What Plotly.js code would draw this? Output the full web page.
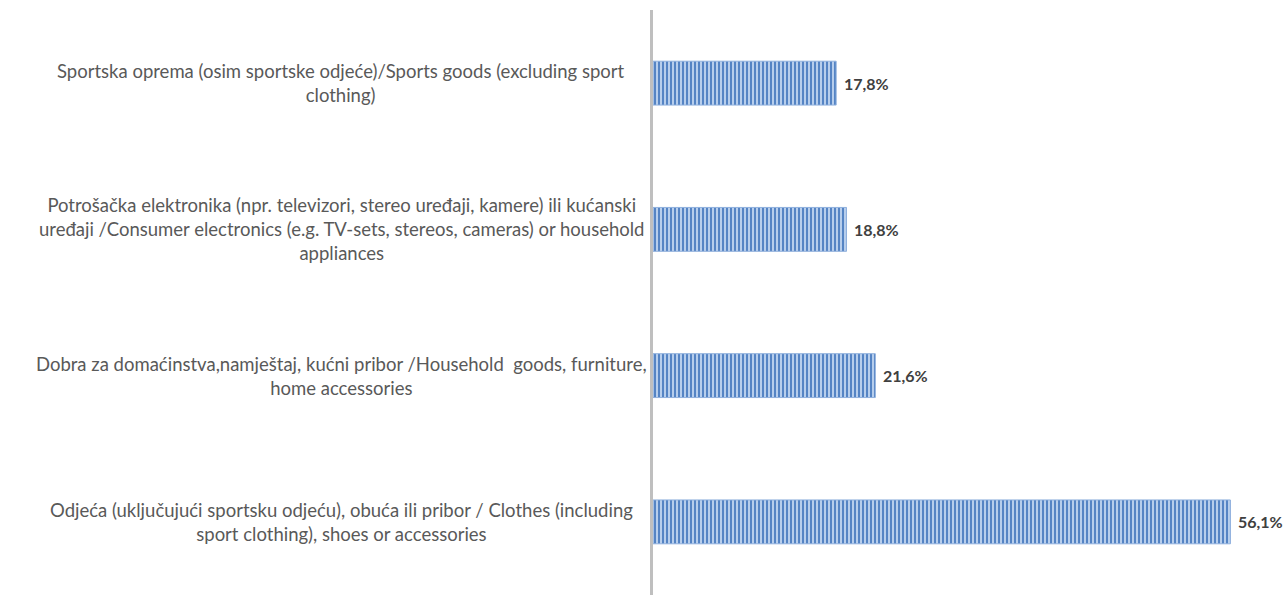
<!DOCTYPE html>
<html>
<head>
<meta charset="utf-8">
<script src="https://cdn.plot.ly/plotly-3.0.1.min.js"></script>
<style>html,body{margin:0;padding:0;background:#fff;}#chart{width:1287px;height:595px;}</style>
</head>
<body>
<div id="chart"></div>
<script>
// Categories top to bottom (line breaks as in the reference)
const categories = [
  "Sportska oprema (osim sportske odjeće)/Sports goods (excluding sport<br>clothing)",
  "Potrošačka elektronika (npr. televizori, stereo uređaji, kamere) ili kućanski<br>uređaji /Consumer electronics (e.g. TV-sets, stereos, cameras) or household<br>appliances",
  "Dobra za domaćinstva,namještaj, kućni pribor /Household  goods, furniture,<br>home accessories",
  "Odjeća (uključujući sportsku odjeću), obuća ili pribor / Clothes (including<br>sport clothing), shoes or accessories"
];
const values = [17.8, 18.8, 21.6, 56.1];
const valueLabels = ["17,8%", "18,8%", "21,6%", "56,1%"];

const labelFont = {family: "Lato, 'Open Sans', sans-serif", size: 18.5, color: "#595959"};

const annotations = [];
categories.forEach((c, i) => {
  annotations.push({
    xref: "paper", yref: "y", x: -0.492, y: c, text: c,
    showarrow: false, xanchor: "center", yanchor: "middle", align: "center",
    font: labelFont
  });
  annotations.push({
    xref: "x", yref: "y", x: values[i], y: c, text: "<b>" + valueLabels[i] + "</b>",
    showarrow: false, xanchor: "left", yanchor: "middle", xshift: 6,
    font: {family: "Lato, 'Open Sans', sans-serif", size: 16, color: "#404040"}
  });
});

const trace = {
  type: "bar", orientation: "h",
  x: values, y: categories,
  width: 0.3,
  marker: {
    color: "#A9C4E8",
    line: {color: "#8FB0DD", width: 1},
    pattern: {shape: "|", fgcolor: "#4A7CC0", bgcolor: "#B7CEEC", size: 4, solidity: 0.45}
  },
  hoverinfo: "none"
};

const layout = {
  width: 1287, height: 595,
  margin: {l: 653, r: 0, t: 10, b: 0},
  paper_bgcolor: "#fff", plot_bgcolor: "#fff",
  showlegend: false,
  separators: ",.",
  xaxis: {range: [0, 61.6], visible: false, showgrid: false, zeroline: false},
  yaxis: {
    type: "category", autorange: "reversed",
    showticklabels: false, showgrid: false, zeroline: false,
    showline: true, linecolor: "#BFBFBF", linewidth: 3, ticks: ""
  },
  annotations: annotations
};

Plotly.newPlot("chart", [trace], layout, {displayModeBar: false, staticPlot: true});
</script>
</body>
</html>
